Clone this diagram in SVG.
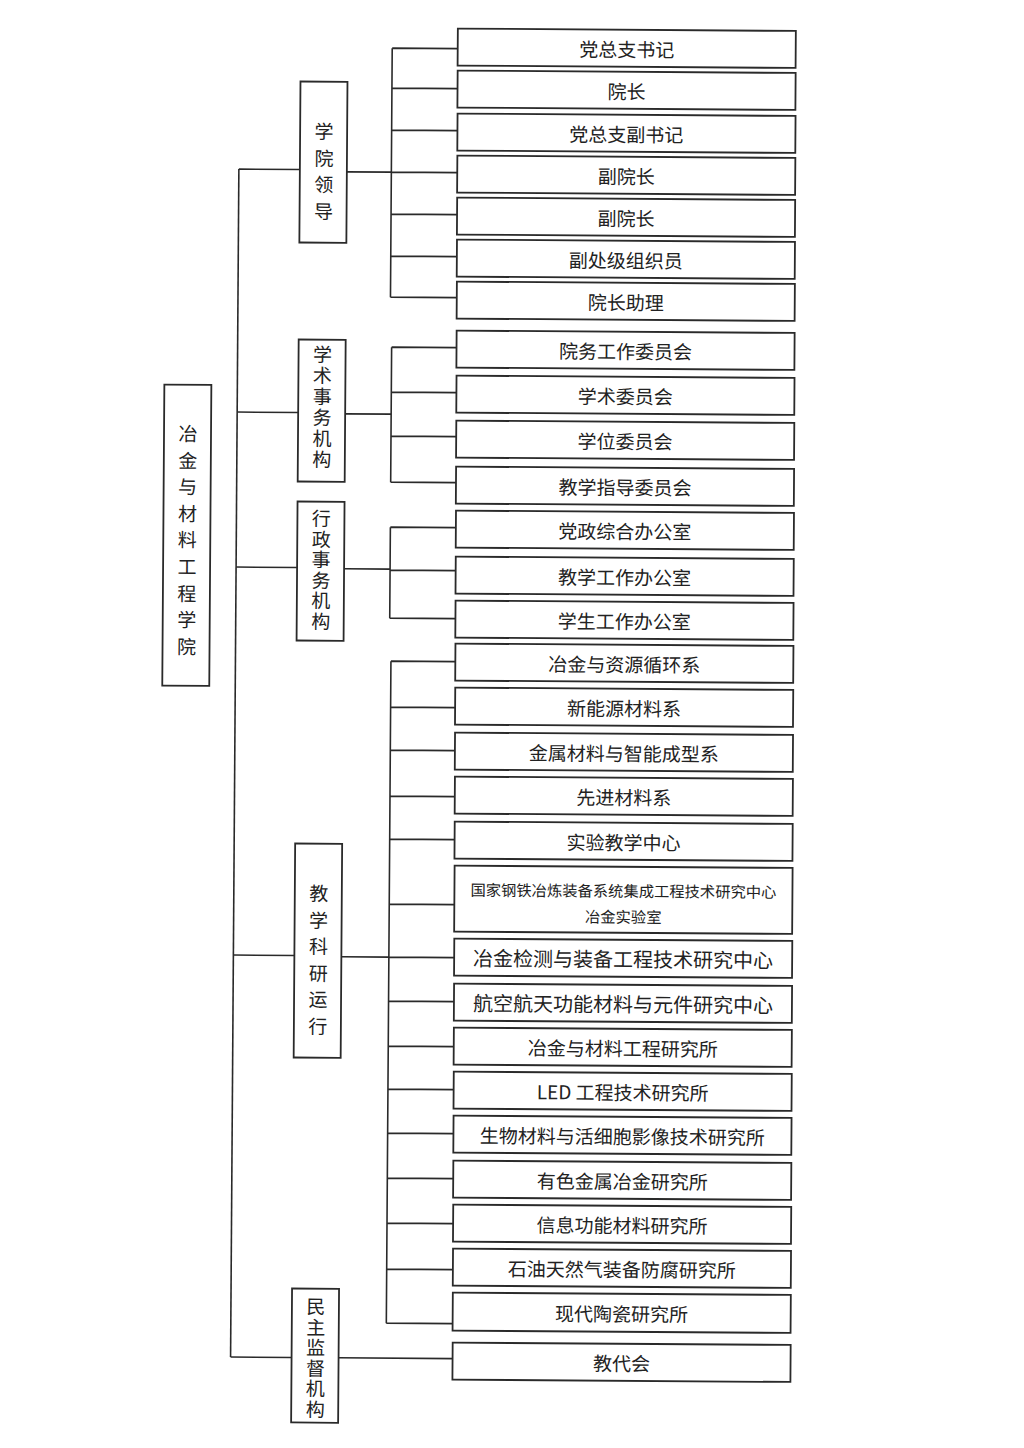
<svg xmlns="http://www.w3.org/2000/svg" width="1024" height="1448" viewBox="0 0 1024 1448">
<style>
.b{fill:#fff;stroke:#2a2a2a;stroke-width:1.8}
.c{fill:none;stroke:#2a2a2a;stroke-width:1.6}
.t{font-family:"Noto Sans CJK SC","Noto Sans",sans-serif;font-size:19px;fill:#222;text-anchor:middle;dominant-baseline:central}
.s{font-size:15.3px}
.w{font-size:20px}
</style>
<rect width="1024" height="1448" fill="#fff"/>
<g transform="rotate(0.4 512 724)">
<g id="connectors">
<path class="c" d="M235 171V1359"/>
<path class="c" d="M235 171H296M235 414H296M235 569H296M235 957H296M235 1359H296"/>
<path class="c" d="M343 173H387.5M387.5 49V298M387.5 49H453M387.5 89H453.1M387.5 131H453.3M387.5 173H453.4M387.5 215H453.5M387.5 257H453.6M387.5 298H453.8"/>
<path class="c" d="M343 415H389M389 348V483M389 348H453.9M389 393H454.1M389 437H454.2M389 483H454.3"/>
<path class="c" d="M343 570H389M389 528V619M389 528H454.5M389 571H454.6M389 619H454.7"/>
<path class="c" d="M343 958H390.5M390.5 662V1324M390.5 662H454.9M390.5 708H455M390.5 751H455.1M390.5 797H455.3M390.5 840H455.4M390.5 905H455.6M390.5 958H455.8M390.5 1002H455.9M390.5 1047H456M390.5 1090H456.2M390.5 1134H456.3M390.5 1179H456.4M390.5 1224H456.6M390.5 1270H456.7M390.5 1324H456.8"/>
<path class="c" d="M343 1359H457"/>
</g>
<g id="root"><rect class="b" x="162" y="387" width="47" height="301"/>
<text class="t"><tspan x="186" y="434">冶</tspan><tspan x="186" y="461">金</tspan><tspan x="186" y="487">与</tspan><tspan x="186" y="514">材</tspan><tspan x="186" y="540">料</tspan><tspan x="186" y="567">工</tspan><tspan x="186" y="594">程</tspan><tspan x="186" y="620">学</tspan><tspan x="186" y="647">院</tspan></text></g>
<g id="lead"><rect class="b" x="296" y="83" width="47" height="161"/>
<text class="t"><tspan x="320" y="131">学</tspan><tspan x="320" y="158">院</tspan><tspan x="320" y="184">领</tspan><tspan x="320" y="211">导</tspan></text></g>
<g id="acad"><rect class="b" x="296" y="341" width="47" height="142"/>
<text class="t"><tspan x="320" y="354">学</tspan><tspan x="320" y="375">术</tspan><tspan x="320" y="396">事</tspan><tspan x="320" y="417">务</tspan><tspan x="320" y="438">机</tspan><tspan x="320" y="459">构</tspan></text></g>
<g id="admin"><rect class="b" x="296" y="503" width="47" height="139"/>
<text class="t"><tspan x="320" y="518">行</tspan><tspan x="320" y="539">政</tspan><tspan x="320" y="559">事</tspan><tspan x="320" y="580">务</tspan><tspan x="320" y="600">机</tspan><tspan x="320" y="621">构</tspan></text></g>
<g id="teach"><rect class="b" x="296" y="845" width="47" height="214"/>
<text class="t"><tspan x="320" y="893">教</tspan><tspan x="320" y="920">学</tspan><tspan x="320" y="946">科</tspan><tspan x="320" y="973">研</tspan><tspan x="320" y="999">运</tspan><tspan x="320" y="1026">行</tspan></text></g>
<g id="demo"><rect class="b" x="296" y="1290" width="47" height="134"/>
<text class="t"><tspan x="320" y="1306">民</tspan><tspan x="320" y="1327">主</tspan><tspan x="320" y="1347">监</tspan><tspan x="320" y="1368">督</tspan><tspan x="320" y="1388">机</tspan><tspan x="320" y="1409">构</tspan></text></g>
<g id="n1"><rect class="b" x="453" y="29" width="338" height="37"/><text class="t" x="622" y="47.5">党总支书记</text></g>
<g id="n2"><rect class="b" x="453.1" y="71" width="338" height="37"/><text class="t" x="622.1" y="89.5">院长</text></g>
<g id="n3"><rect class="b" x="453.3" y="114" width="338" height="37"/><text class="t" x="622.3" y="132.5">党总支副书记</text></g>
<g id="n4"><rect class="b" x="453.4" y="156" width="338" height="37"/><text class="t" x="622.4" y="174.5">副院长</text></g>
<g id="n5"><rect class="b" x="453.5" y="198" width="338" height="37"/><text class="t" x="622.5" y="216.5">副院长</text></g>
<g id="n6"><rect class="b" x="453.6" y="240" width="338" height="37"/><text class="t" x="622.6" y="258.5">副处级组织员</text></g>
<g id="n7"><rect class="b" x="453.8" y="282" width="338" height="37"/><text class="t" x="622.8" y="300.5">院长助理</text></g>
<g id="n8"><rect class="b" x="453.9" y="331" width="338" height="37"/><text class="t" x="622.9" y="349.5">院务工作委员会</text></g>
<g id="n9"><rect class="b" x="454.1" y="376" width="338" height="37"/><text class="t" x="623.1" y="394.5">学术委员会</text></g>
<g id="n10"><rect class="b" x="454.2" y="421" width="338" height="37"/><text class="t" x="623.2" y="439.5">学位委员会</text></g>
<g id="n11"><rect class="b" x="454.3" y="467" width="338" height="37"/><text class="t" x="623.3" y="485.5">教学指导委员会</text></g>
<g id="n12"><rect class="b" x="454.5" y="511" width="338" height="37"/><text class="t" x="623.5" y="529.5">党政综合办公室</text></g>
<g id="n13"><rect class="b" x="454.6" y="557" width="338" height="37"/><text class="t" x="623.6" y="575.5">教学工作办公室</text></g>
<g id="n14"><rect class="b" x="454.7" y="601" width="338" height="37"/><text class="t" x="623.7" y="619.5">学生工作办公室</text></g>
<g id="n15"><rect class="b" x="454.9" y="644" width="338" height="37"/><text class="t" x="623.9" y="662.5">冶金与资源循环系</text></g>
<g id="n16"><rect class="b" x="455" y="688" width="338" height="37"/><text class="t" x="624" y="706.5">新能源材料系</text></g>
<g id="n17"><rect class="b" x="455.1" y="733" width="338" height="37"/><text class="t" x="624.1" y="751.5">金属材料与智能成型系</text></g>
<g id="n18"><rect class="b" x="455.3" y="777" width="338" height="37"/><text class="t" x="624.3" y="795.5">先进材料系</text></g>
<g id="n19"><rect class="b" x="455.4" y="822" width="338" height="37"/><text class="t" x="624.4" y="840.5">实验教学中心</text></g>
<g id="n20"><rect class="b" x="455.6" y="866" width="338" height="66"/><text class="t s" x="624.6" y="889">国家钢铁冶炼装备系统集成工程技术研究中心</text><text class="t s" x="624.6" y="915">冶金实验室</text></g>
<g id="n21"><rect class="b" x="455.8" y="939" width="338" height="37"/><text class="t w" x="624.8" y="957.5">冶金检测与装备工程技术研究中心</text></g>
<g id="n22"><rect class="b" x="455.9" y="984" width="338" height="37"/><text class="t w" x="624.9" y="1002.5">航空航天功能材料与元件研究中心</text></g>
<g id="n23"><rect class="b" x="456" y="1028" width="338" height="37"/><text class="t" x="625" y="1046.5">冶金与材料工程研究所</text></g>
<g id="n24"><rect class="b" x="456.2" y="1072" width="338" height="37"/><text class="t" x="625.2" y="1090.5">LED 工程技术研究所</text></g>
<g id="n25"><rect class="b" x="456.3" y="1116" width="338" height="37"/><text class="t" x="625.3" y="1134.5">生物材料与活细胞影像技术研究所</text></g>
<g id="n26"><rect class="b" x="456.4" y="1161" width="338" height="37"/><text class="t" x="625.4" y="1179.5">有色金属冶金研究所</text></g>
<g id="n27"><rect class="b" x="456.6" y="1205" width="338" height="37"/><text class="t" x="625.6" y="1223.5">信息功能材料研究所</text></g>
<g id="n28"><rect class="b" x="456.7" y="1249" width="338" height="37"/><text class="t" x="625.7" y="1267.5">石油天然气装备防腐研究所</text></g>
<g id="n29"><rect class="b" x="456.8" y="1293" width="338" height="38"/><text class="t" x="625.8" y="1312">现代陶瓷研究所</text></g>
<g id="n30"><rect class="b" x="457" y="1343" width="338" height="37"/><text class="t" x="626" y="1361.5">教代会</text></g>
</g>
</svg>
